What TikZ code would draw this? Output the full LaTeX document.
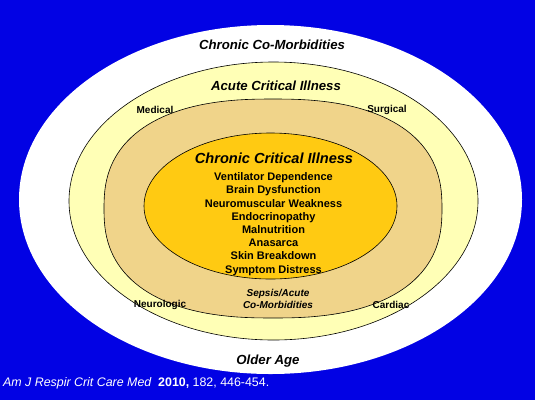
\documentclass[tikz,border=0pt]{standalone}
\usepackage{fontspec}
\setmainfont{Liberation Sans}
\usepackage{xcolor}
\usepackage{tikz}
\usetikzlibrary{positioning}
\definecolor{slideblue}{RGB}{2, 2, 228}
\definecolor{paleyellow}{RGB}{255, 255, 182}
\definecolor{tanring}{RGB}{240, 212, 138}
\definecolor{goldcore}{RGB}{255, 202, 18}

\begin{document}
\begin{tikzpicture}[
    x=1pt, y=-1pt,
    ring/.style={draw=black, line width=0.6pt},
    head/.style={inner sep=0pt, font=\fontsize{13.2}{15}\selectfont\bfseries\itshape},
    corner/.style={inner sep=0pt, font=\fontsize{10}{12}\selectfont\bfseries},
    items/.style={inner sep=0pt, align=center, font=\fontsize{11}{13.2}\selectfont\bfseries}
]
    \fill[slideblue] (0,0) rectangle (535,400);
    \useasboundingbox (0,0) rectangle (535,400);
    % layers, outside in
    \fill[white] (270.5,199.5) ellipse [x radius=251.5, y radius=174.5];
    \filldraw[ring, fill=paleyellow] (273.5,201) ellipse [x radius=204.5, y radius=139];
    \filldraw[ring, fill=tanring] plot[domain=1.25:361.25, samples=145, variable=\t]
        ({273+169*sign(cos(\t))*(abs(cos(\t)))^0.82},
         {208.5+109.5*sign(sin(\t))*(abs(sin(\t)))^0.82}) -- cycle;
    \filldraw[ring, fill=goldcore] (270.5,206) ellipse [x radius=126.5, y radius=73];

    \node[head] (chronic) at (272,45) {Chronic Co-Morbidities};
    \node[head] (acute) at (276,86) {Acute Critical Illness};
    \node[corner] (medical) at (155,110) {Medical};
    \node[corner] (surgical) at (387,110) {Surgical};
    \node[corner] (neuro) at (160,305) {Neurologic};
    \node[corner] (cardiac) at (391,305) {Cardiac};

    \node[head, font=\fontsize{14.6}{17}\selectfont\bfseries\itshape] (cci) at (274,158)
        {Chronic Critical Illness};
    \node[items] (signs) at (273.5,224) {
        Ventilator Dependence\\
        Brain Dysfunction\\
        Neuromuscular Weakness\\
        Endocrinopathy\\
        Malnutrition\\
        Anasarca\\
        Skin Breakdown\\
        Symptom Distress
    };
    \node[items, font=\fontsize{10}{12}\selectfont\bfseries\itshape] (sepsis) at (278,299)
        {Sepsis/Acute\\Co-Morbidities};
    \node[head] (older) at (268,361) {Older Age};

    \node[anchor=west, inner sep=0pt, text=white, font=\fontsize{12.4}{14}\selectfont] (cite) at (3,383)
        {\itshape Am J Respir Crit Care Med\ \ \upshape\bfseries 2010,\mdseries\ 182, 446-454.};
\end{tikzpicture}
\end{document}
